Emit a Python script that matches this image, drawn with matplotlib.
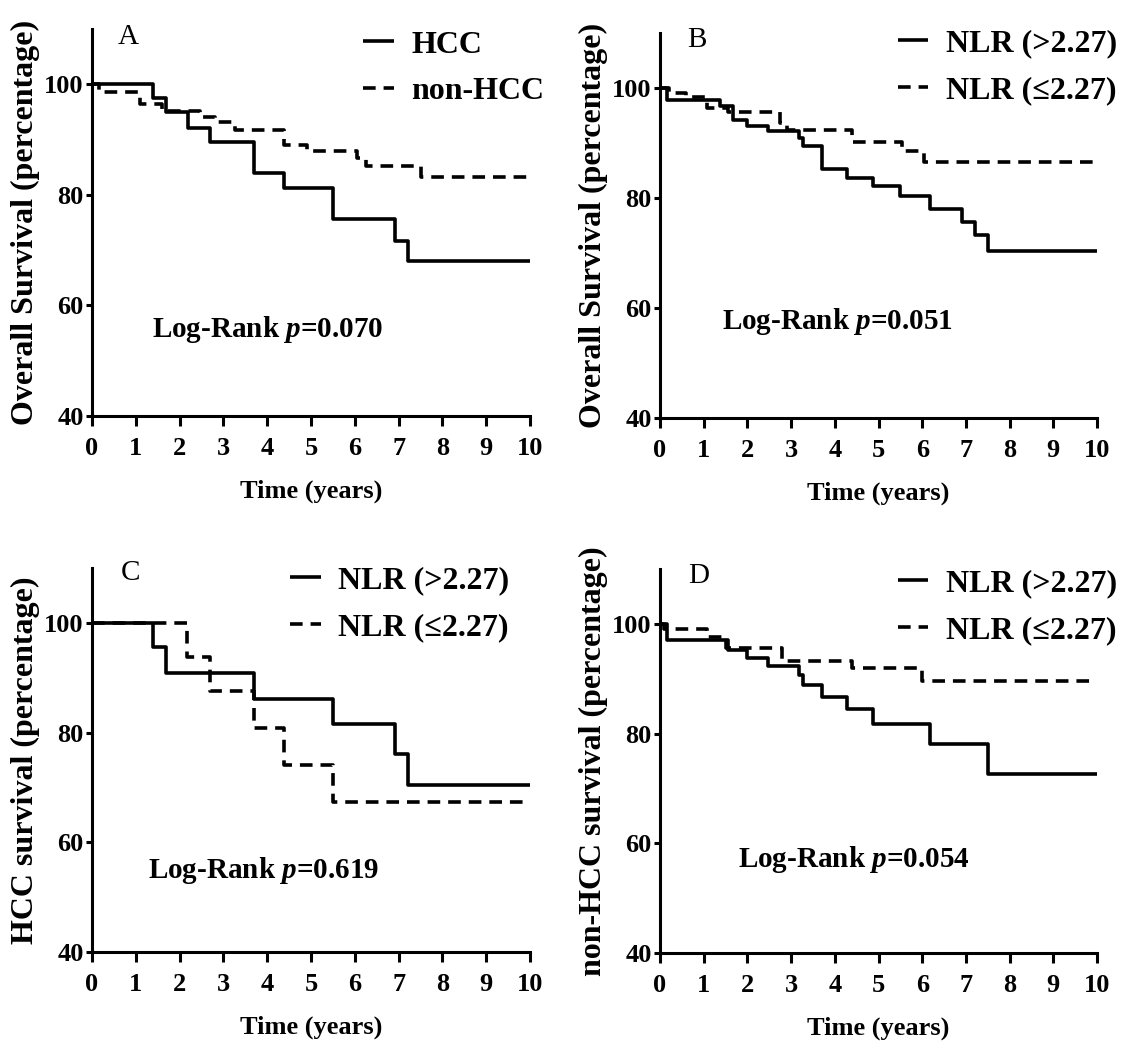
import matplotlib
matplotlib.use("Agg")
import matplotlib.pyplot as plt

plt.rcParams['font.family'] = ['Liberation Serif', 'DejaVu Serif']
plt.rcParams['font.weight'] = 'bold'
plt.rcParams['mathtext.fontset'] = 'custom'
plt.rcParams['mathtext.it'] = 'Liberation Serif:italic:bold'
plt.rcParams['mathtext.rm'] = 'Liberation Serif:bold'

# ---- data (Kaplan-Meier step curves: time in years, survival in %) ----
a_hcc_t = [0, 1.39, 1.69, 2.19, 2.69, 3.69, 4.39, 5.50, 6.91, 7.22, 10]
a_hcc_s = [100, 97.5, 94.9, 92.1, 89.5, 83.9, 81.2, 75.6, 71.7, 68.1, 68.1]
a_non_t = [0, 0.15, 1.10, 1.60, 2.47, 2.81, 3.27, 4.38, 4.91, 6.06, 6.25, 7.50, 10]
a_non_s = [100, 98.6, 96.5, 95.1, 94.1, 93.2, 91.7, 89.1, 88.0, 86.6, 85.2, 83.3, 83.3]

b_hi_t = [0, 0.15, 1.37, 1.66, 1.98, 2.48, 3.17, 3.28, 3.70, 4.29, 4.88, 5.49, 6.18, 6.90, 7.21, 7.51, 10]
b_hi_s = [100, 97.9, 96.8, 94.2, 93.1, 92.1, 90.9, 89.5, 85.3, 83.7, 82.1, 80.3, 78.0, 75.6, 73.2, 70.3, 70.3]
b_lo_t = [0, 0.20, 0.60, 1.07, 1.56, 2.75, 2.90, 4.39, 5.53, 6.03, 10]
b_lo_s = [100, 99.1, 98.4, 96.4, 95.6, 93.6, 92.3, 90.2, 88.5, 86.5, 86.5]

c_hi_t = [0, 1.39, 1.70, 3.69, 5.50, 6.91, 7.22, 10]
c_hi_s = [100, 95.6, 90.9, 86.2, 81.5, 76.1, 70.4, 70.4]
c_lo_t = [0, 2.18, 2.70, 3.69, 4.39, 5.50, 10]
c_lo_s = [100, 93.8, 87.6, 80.8, 74.1, 67.3, 67.3]

d_hi_t = [0, 0.15, 1.56, 1.98, 2.48, 3.17, 3.28, 3.70, 4.29, 4.88, 6.18, 7.51, 10]
d_hi_s = [100, 97.0, 95.3, 93.8, 92.3, 90.7, 88.9, 86.7, 84.4, 81.7, 78.1, 72.6, 72.6]
d_lo_t = [0, 0.10, 1.07, 1.50, 2.80, 4.39, 6.00, 10]
d_lo_s = [100, 99.0, 97.6, 95.6, 93.3, 91.9, 89.6, 89.6]

panel_letters = ['A', 'B', 'C', 'D']
ylabels = ['Overall Survival (percentage)', 'Overall Survival (percentage)',
           'HCC survival (percentage)', 'non-HCC survival (percentage)']
legend_labels = [('HCC', 'non-HCC'), ('NLR (>2.27)', 'NLR (≤2.27)'),
                 ('NLR (>2.27)', 'NLR (≤2.27)'), ('NLR (>2.27)', 'NLR (≤2.27)')]
pvalues = ['0.070', '0.051', '0.619', '0.054']
xticks = list(range(0, 11))
yticks = [40, 60, 80, 100]

series = [((a_hcc_t, a_hcc_s), (a_non_t, a_non_s)),
          ((b_hi_t, b_hi_s), (b_lo_t, b_lo_s)),
          ((c_hi_t, c_hi_s), (c_lo_t, c_lo_s)),
          ((d_hi_t, d_hi_s), (d_lo_t, d_lo_s))]

positions = [
    [92/1130, 1-416/1045, 438/1130, 387/1045],
    [660/1130, 1-418/1045, 437/1130, 385/1045],
    [92/1130, 1-952/1045, 438/1130, 384/1045],
    [660/1130, 1-953/1045, 437/1130, 384/1045],
]
ptext_pos = [(1.37, 55.7), (1.42, 57.5), (1.28, 54.8), (1.78, 57.1)]
letter_pos = [(0.82, 108.5), (0.85, 108.8), (0.87, 109.0), (0.88, 108.8)]
legend_anchor = [(1.062, 1.03), (1.075, 1.044), (0.982, 1.038), (1.075, 1.033)]

fig = plt.figure(figsize=(11.3, 10.45), dpi=100)

for i in range(4):
    ax = fig.add_axes(positions[i])
    (t1, s1), (t2, s2) = series[i]
    ax.step(t1, s1, where='post', color='black', lw=2.6, solid_capstyle='butt',
            label=legend_labels[i][0])
    ax.step(t2, s2, where='post', color='black', lw=2.6, dashes=(3.5, 2.2),
            label=legend_labels[i][1])
    ax.set_xlim(0, 10)
    ax.set_ylim(40, 110)
    ax.set_xticks(xticks)
    ax.set_yticks(yticks)
    for sp in ['top', 'right']:
        ax.spines[sp].set_visible(False)
    for sp in ['left', 'bottom']:
        ax.spines[sp].set_linewidth(2.2)
    ax.tick_params(axis='x', length=7, width=2.2, pad=8, labelsize=19)
    ax.tick_params(axis='y', length=4, width=2.2, pad=2, labelsize=19)
    for lab in ax.get_xticklabels() + ax.get_yticklabels():
        lab.set_fontweight('bold')
    ax.set_xlabel('Time (years)', fontsize=19, fontweight='bold', labelpad=14)
    ax.set_ylabel(ylabels[i], fontsize=23, fontweight='bold', labelpad=3)
    ax.text(ptext_pos[i][0], ptext_pos[i][1], 'Log-Rank $p$=' + pvalues[i],
            fontsize=21, fontweight='bold', ha='left', va='center')
    ax.text(letter_pos[i][0], letter_pos[i][1], panel_letters[i],
            fontsize=21, fontweight='normal', ha='center', va='center', clip_on=False)
    leg = ax.legend(loc='upper right', bbox_to_anchor=legend_anchor[i], frameon=False,
                    fontsize=23, handlelength=0.95, handletextpad=0.55, labelspacing=0.55,
                    borderaxespad=0)
    for txt in leg.get_texts():
        txt.set_fontweight('bold')

fig.savefig('out.png', dpi=100)
